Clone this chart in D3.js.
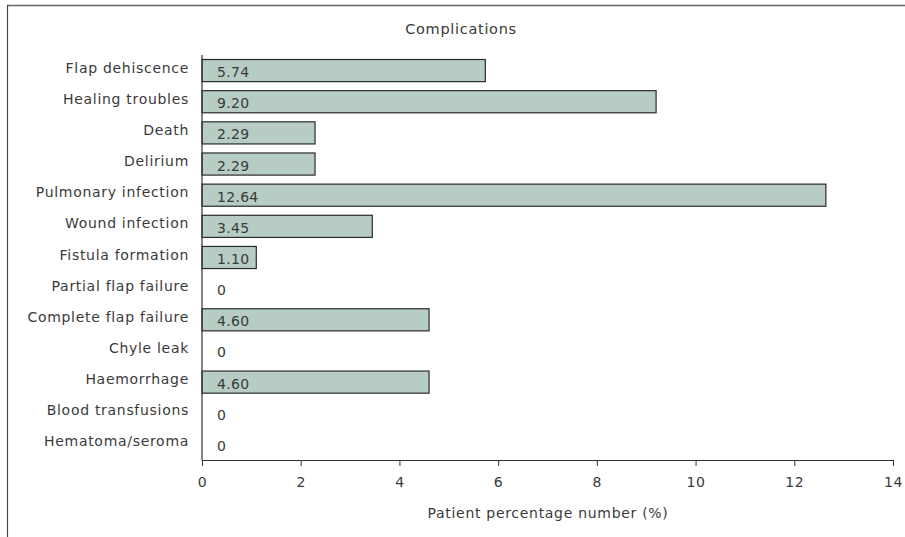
<!DOCTYPE html>
<html>
<head>
<meta charset="utf-8">
<script src="https://cdn.jsdelivr.net/npm/d3@7"></script>
<style>
  html, body { margin: 0; padding: 0; background: #fff; }
  svg { display: block; }
  text { font-family: "DejaVu Sans", sans-serif; fill: #3a3a3a; letter-spacing: 0.7px; }
</style>
</head>
<body>
<svg id="chart" width="905" height="537"></svg>
<script>
// Complications, percentage of patients
const categories = [
  "Flap dehiscence", "Healing troubles", "Death", "Delirium",
  "Pulmonary infection", "Wound infection", "Fistula formation",
  "Partial flap failure", "Complete flap failure", "Chyle leak",
  "Haemorrhage", "Blood transfusions", "Hematoma/seroma"
];
const values = [5.74, 9.20, 2.29, 2.29, 12.64, 3.45, 1.10, 0, 4.60, 0, 4.60, 0, 0];
const valueLabels = ["5.74", "9.20", "2.29", "2.29", "12.64", "3.45", "1.10", "0", "4.60", "0", "4.60", "0", "0"];
const xTicks = [0, 2, 4, 6, 8, 10, 12, 14];
const chartTitle = "Complications";
const xTitle = "Patient percentage number (%)";

const svg = d3.select("#chart");
const W = 905, H = 537;
const margin = { left: 202, top: 55 };
const FS = "14px";

// Outer frame: top and left edges
svg.append("line").attr("x1", 7).attr("x2", W).attr("y1", 5.5).attr("y2", 5.5)
  .attr("stroke", "#666").attr("stroke-width", 1.5);
svg.append("line").attr("x1", 7.5).attr("x2", 7.5).attr("y1", 5).attr("y2", H)
  .attr("stroke", "#444").attr("stroke-width", 1.2);

const x = d3.scaleLinear().domain([0, 14]).range([margin.left, 893]);
const y = d3.scaleBand().domain(categories).range([margin.top, 460]).paddingInner(0.29).paddingOuter(0.145);

svg.append("text").attr("x", 461).attr("y", 34).attr("text-anchor", "middle")
  .style("font-size", "14.5px").text(chartTitle);

// Bars
const data = categories.map((c, i) => ({ c, v: values[i], label: valueLabels[i] }));
svg.append("g").selectAll("rect").data(data.filter(d => d.v > 0)).join("rect")
  .attr("x", x(0))
  .attr("y", d => y(d.c))
  .attr("width", d => x(d.v) - x(0))
  .attr("height", y.bandwidth())
  .attr("fill", "#b7cdc4")
  .attr("stroke", "#2b2b2b")
  .attr("stroke-width", 1.2);

// Value labels inside bars
svg.append("g").selectAll("text").data(data).join("text")
  .attr("x", x(0) + 15)
  .attr("y", d => y(d.c) + y.bandwidth() / 2 + 6.5)
  .style("font-size", FS)
  .style("letter-spacing", "0.3px")
  .text(d => d.label);

// Category labels
svg.append("g").selectAll("text").data(categories).join("text")
  .attr("x", 189)
  .attr("y", d => y(d) + y.bandwidth() / 2 + 2)
  .attr("text-anchor", "end")
  .style("font-size", FS)
  .text(d => d);

// Y axis line
svg.append("line").attr("x1", x(0)).attr("x2", x(0)).attr("y1", margin.top).attr("y2", 460)
  .attr("stroke", "#333").attr("stroke-width", 1.2);

// X axis
const xAxis = svg.append("g").attr("transform", "translate(0,460)")
  .call(d3.axisBottom(x).tickValues(xTicks).tickSize(6).tickSizeOuter(0).tickFormat(d3.format("d")));
xAxis.select(".domain").attr("stroke", "#333").attr("stroke-width", 1.2);
xAxis.selectAll(".tick line").attr("stroke", "#333");
xAxis.selectAll(".tick text").attr("dy", 0).attr("y", 27).style("font-size", FS)
  .style("font-family", "DejaVu Sans, sans-serif").attr("fill", "#3a3a3a");

svg.append("text").attr("x", 548).attr("y", 518).attr("text-anchor", "middle")
  .style("font-size", FS).text(xTitle);
</script>
</body>
</html>
